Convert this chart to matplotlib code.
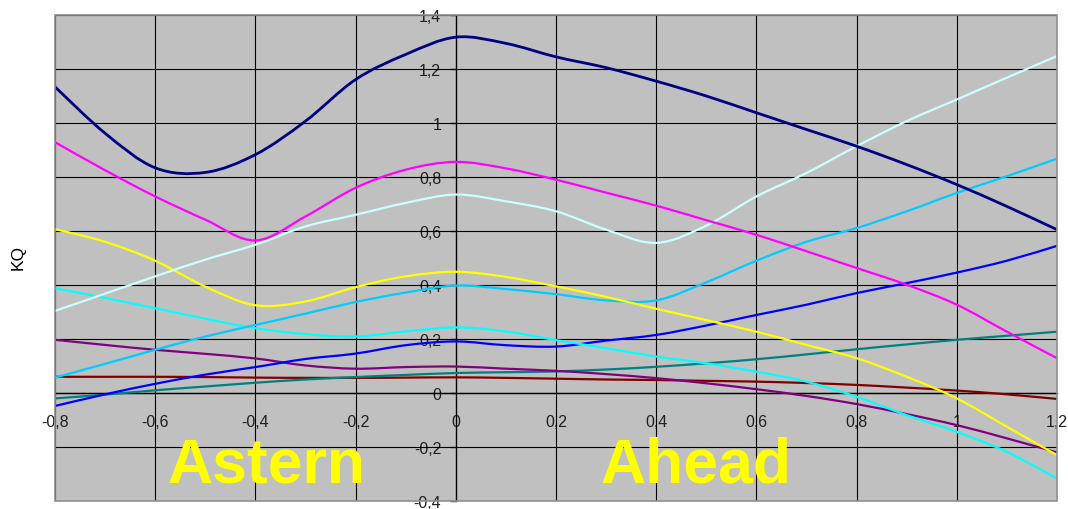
import matplotlib
matplotlib.use("Agg")
import matplotlib.pyplot as plt
from matplotlib.ticker import FuncFormatter
from matplotlib.patches import Rectangle, PathPatch
from matplotlib.path import Path

plt.rcParams['font.family'] = ['Liberation Sans', 'DejaVu Sans']

# ---- data ----
x = [-0.8, -0.7, -0.6, -0.5, -0.4, -0.3, -0.2, -0.1, 0.0, 0.1, 0.2,
     0.3, 0.4, 0.5, 0.6, 0.7, 0.8, 0.9, 1.0, 1.1, 1.2]

navy = [1.134, 0.962, 0.834, 0.817, 0.883, 1.007, 1.161, 1.254, 1.318, 1.295, 1.245,
        1.205, 1.155, 1.100, 1.038, 0.976, 0.914, 0.846, 0.772, 0.691, 0.605]
magenta = [0.929, 0.825, 0.728, 0.642, 0.565, 0.654, 0.760, 0.827, 0.856, 0.832, 0.790,
           0.742, 0.694, 0.640, 0.586, 0.525, 0.463, 0.401, 0.327, 0.227, 0.129]
lightcyan = [0.304, 0.368, 0.432, 0.494, 0.549, 0.617, 0.660, 0.704, 0.735, 0.710, 0.673,
             0.605, 0.556, 0.620, 0.728, 0.815, 0.914, 1.007, 1.087, 1.168, 1.248]
yellow = [0.607, 0.560, 0.490, 0.394, 0.325, 0.339, 0.392, 0.432, 0.449, 0.430, 0.395,
          0.356, 0.312, 0.270, 0.227, 0.178, 0.129, 0.060, -0.020, -0.125, -0.230]
skyblue = [0.057, 0.108, 0.160, 0.209, 0.252, 0.294, 0.337, 0.372, 0.398, 0.385, 0.366,
           0.343, 0.343, 0.410, 0.490, 0.560, 0.611, 0.673, 0.741, 0.803, 0.868]
cyan = [0.388, 0.352, 0.314, 0.275, 0.240, 0.218, 0.209, 0.228, 0.243, 0.228, 0.196,
        0.166, 0.135, 0.110, 0.079, 0.042, -0.014, -0.082, -0.144, -0.218, -0.317]
blue = [-0.048, -0.005, 0.034, 0.068, 0.096, 0.126, 0.146, 0.177, 0.191, 0.177, 0.172,
        0.194, 0.215, 0.250, 0.289, 0.327, 0.370, 0.407, 0.446, 0.490, 0.545]
purple = [0.197, 0.178, 0.160, 0.145, 0.128, 0.102, 0.090, 0.096, 0.098, 0.090, 0.082,
          0.070, 0.055, 0.036, 0.014, -0.011, -0.041, -0.078, -0.119, -0.168, -0.220]
teal = [-0.020, -0.006, 0.010, 0.024, 0.038, 0.050, 0.059, 0.067, 0.074, 0.077, 0.080,
        0.087, 0.097, 0.110, 0.125, 0.143, 0.162, 0.180, 0.197, 0.212, 0.227]
darkred = [0.060, 0.060, 0.060, 0.059, 0.057, 0.056, 0.056, 0.057, 0.058, 0.056, 0.053,
           0.050, 0.048, 0.045, 0.042, 0.037, 0.030, 0.020, 0.009, -0.005, -0.022]

series = [
    (darkred, '#800000', 1.6),
    (teal, '#008080', 1.6),
    (purple, '#800080', 1.6),
    (blue, '#0000FF', 1.6),
    (cyan, '#00FFFF', 1.6),
    (skyblue, '#00CCFF', 1.6),
    (yellow, '#FFFF00', 1.6),
    (lightcyan, '#CCFFFF', 1.6),
    (magenta, '#FF00FF', 1.6),
    (navy, '#000080', 2.0),
]

xticks = [-0.8, -0.6, -0.4, -0.2, 0.0, 0.2, 0.4, 0.6, 0.8, 1.0, 1.2]
yticks = [-0.4, -0.2, 0.0, 0.2, 0.4, 0.6, 0.8, 1.0, 1.2, 1.4]


def smooth_path(xs, ys):
    """Excel-style smoothed line: cubic Bezier segments through every point."""
    n = len(xs)
    verts = [(xs[0], ys[0])]
    codes = [Path.MOVETO]
    for i in range(n - 1):
        i0 = max(i - 1, 0)
        i3 = min(i + 2, n - 1)
        c1 = (xs[i] + (xs[i + 1] - xs[i0]) / 6.0, ys[i] + (ys[i + 1] - ys[i0]) / 6.0)
        c2 = (xs[i + 1] - (xs[i3] - xs[i]) / 6.0, ys[i + 1] - (ys[i3] - ys[i]) / 6.0)
        verts += [c1, c2, (xs[i + 1], ys[i + 1])]
        codes += [Path.CURVE4] * 3
    return Path(verts, codes)


# ---- figure ----
fig = plt.figure(figsize=(10.68, 5.10), dpi=100)
ax = fig.add_axes([0.0515, 0.0157, 0.9382, 0.9529])
ax.set_facecolor('#C0C0C0')
ax.set_xlim(-0.8, 1.2)
ax.set_ylim(-0.4, 1.4)

for s in ('top', 'right'):
    ax.spines[s].set_visible(False)
ax.spines['left'].set_position(('data', 0))
ax.spines['bottom'].set_position(('data', 0))
ax.spines['left'].set_color('#404040')
ax.spines['bottom'].set_color('black')
ax.spines['left'].set_linewidth(1.0)
ax.spines['bottom'].set_linewidth(1.0)

ax.set_xticks(xticks)
ax.set_yticks(yticks)


def comma(v, pos):
    v = round(v, 1)
    if v == 0:
        return '0'
    return ('%g' % v).replace('.', ',')


ax.xaxis.set_major_formatter(FuncFormatter(comma))
ax.yaxis.set_major_formatter(FuncFormatter(comma))
ax.tick_params(axis='x', length=0, pad=15, labelsize=11.5, labelcolor='#202020')
ax.tick_params(axis='y', direction='out', length=4, width=1, color='#303030',
               pad=6.5, labelsize=11.5, labelcolor='#202020')

# grid drawn over tick labels, under the data
for xv in xticks:
    ax.axvline(xv, color='black', lw=0.8, zorder=2.6)
for yv in yticks:
    ax.axhline(yv, color='black', lw=0.8, zorder=2.6)

for ys, col, lw in series:
    ax.add_patch(PathPatch(smooth_path(x, ys), facecolor='none', edgecolor=col,
                           lw=lw, zorder=4, joinstyle='round', capstyle='butt'))

ax.text(-0.575, -0.329, 'Astern', fontsize=45, fontweight='bold', color='#FFFF00',
        ha='left', va='baseline', zorder=6)
ax.text(0.288, -0.329, 'Ahead', fontsize=45, fontweight='bold', color='#FFFF00',
        ha='left', va='baseline', zorder=6)

ax.add_patch(Rectangle((0, 0), 1, 1, transform=ax.transAxes, fill=False,
                       edgecolor='#909090', lw=1.2, zorder=7, clip_on=False))

fig.text(0.017, 0.496, 'KQ', rotation=90, ha='center', va='center', fontsize=12.5,
         color='black')

fig.savefig('out.png', dpi=100, facecolor='white')
